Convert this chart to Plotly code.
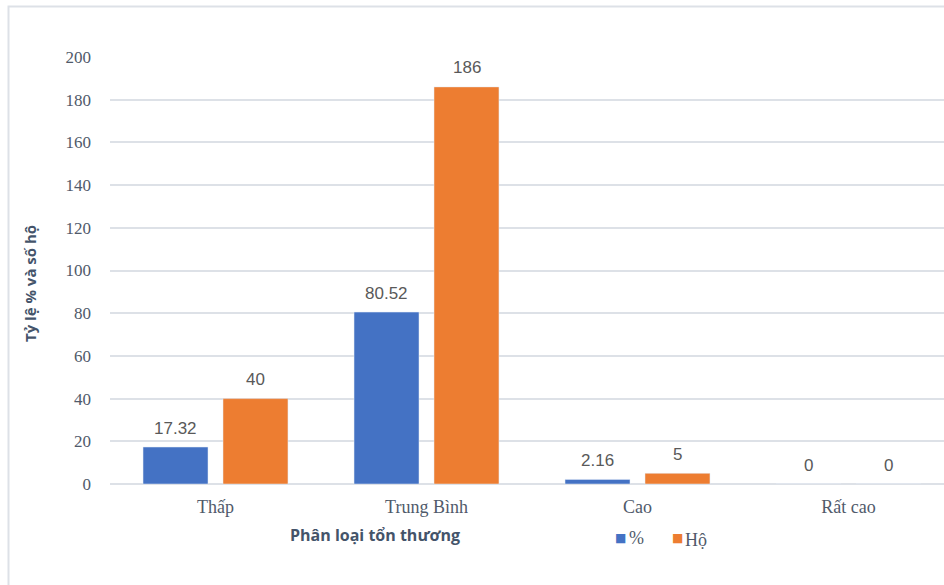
import plotly.graph_objects as go

categories = ["Thấp", "Trung Bình", "Cao", "Rất cao"]
percent_values = [17.32, 80.52, 2.16, 0]
household_values = [40, 186, 5, 0]
y_ticks = [0, 20, 40, 60, 80, 100, 120, 140, 160, 180, 200]

W, H = 944, 585
L, R, T, B = 110, 0, 57, 101
plot_w = W - L - R
plot_h = H - T - B
cat_px = 211.0          # width of one category band in pixels
bar_offset = 40 / cat_px  # centre of each bar relative to its category


def px_x(px):
    return (px - L) / plot_w


def px_y(py):
    return (H - B - py) / plot_h


label_font = dict(family="Liberation Sans", size=17, color="#595959")
colors = {"%": "#4472C4", "Hộ": "#ED7D31"}

fig = go.Figure()
fig.add_trace(go.Bar(name="%", x=categories, y=percent_values,
                     marker=dict(color=colors["%"])))
fig.add_trace(go.Bar(name="Hộ", x=categories, y=household_values,
                     marker=dict(color=colors["Hộ"])))

annotations = []
# value labels above each bar
for series, sign in ((percent_values, -1), (household_values, 1)):
    for i, v in enumerate(series):
        annotations.append(dict(
            x=i + sign * bar_offset, y=v, xref="x", yref="y",
            text=f"{v:g}", showarrow=False, yanchor="middle", yshift=19,
            font=label_font,
        ))

# axis titles
annotations.append(dict(
    text="<b>Phân loại tổn thương</b>", xref="paper", yref="paper",
    x=px_x(375), y=px_y(535), xanchor="center", yanchor="middle",
    showarrow=False, font=dict(family="Open Sans", size=16, color="#44546a"),
))
annotations.append(dict(
    text="<b>Tỷ lệ % và số hộ</b>", xref="paper", yref="paper",
    x=px_x(30), y=px_y(284), xanchor="center", yanchor="middle",
    textangle=-90, showarrow=False,
    font=dict(family="Open Sans", size=15, color="#44546a"),
))

# legend row
legend_font = dict(family="Liberation Serif", size=18, color="#505a6a")
annotations += [
    dict(text="■", xref="paper", yref="paper", x=px_x(620), y=px_y(538),
         xanchor="center", yanchor="middle", showarrow=False,
         font=dict(family="DejaVu Sans", size=12, color=colors["%"])),
    dict(text="%", xref="paper", yref="paper", x=px_x(627), y=px_y(538),
         xanchor="left", yanchor="middle", showarrow=False, font=legend_font),
    dict(text="■", xref="paper", yref="paper", x=px_x(677), y=px_y(538),
         xanchor="center", yanchor="middle", showarrow=False,
         font=dict(family="DejaVu Sans", size=12, color=colors["Hộ"])),
    dict(text="Hộ", xref="paper", yref="paper", x=px_x(683), y=px_y(540),
         xanchor="left", yanchor="middle", showarrow=False, font=legend_font),
]

grid = "#dde1e7"
fig.update_layout(
    width=W, height=H,
    margin=dict(l=L, r=R, t=T, b=B),
    paper_bgcolor="white", plot_bgcolor="white",
    barmode="group", bargap=0.242, bargroupgap=0.1875,
    showlegend=False,
    xaxis=dict(
        type="category", range=[-0.5, -0.5 + plot_w / cat_px],
        showgrid=False, showline=False, ticks="", ticklabelstandoff=10,
        tickfont=dict(family="Liberation Serif", size=18, color="#505a6a"),
    ),
    yaxis=dict(
        range=[0, 200], tickvals=y_ticks,
        showgrid=True, gridcolor=grid, gridwidth=1.5,
        zeroline=True, zerolinecolor=grid, zerolinewidth=1.5,
        showline=False, ticks="", ticklabelstandoff=18,
        tickfont=dict(family="Liberation Serif", size=17, color="#505a6a"),
    ),
    annotations=annotations,
    shapes=[dict(
        type="rect", xref="paper", yref="paper",
        x0=px_x(8.5), x1=1.02, y0=px_y(600), y1=px_y(6.5),
        line=dict(color="#dde1e7", width=2), fillcolor="rgba(0,0,0,0)",
        layer="below",
    )],
)

fig.write_html("out.html")
